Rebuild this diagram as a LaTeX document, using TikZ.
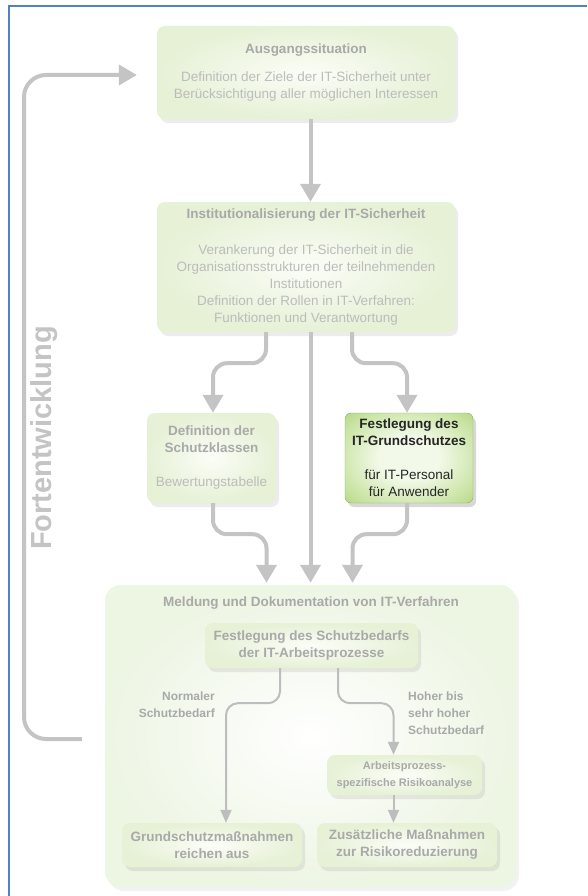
\documentclass[tikz,border=0pt]{standalone}
\usepackage{fontspec}
\setmainfont{Liberation Sans}
\usetikzlibrary{arrows.meta,shadows}
\definecolor{frameblue}{HTML}{4F81C6}
\definecolor{arrgray}{HTML}{C4C4C4}
\definecolor{arrgraysm}{HTML}{BDBDBD}
\definecolor{titlegray}{HTML}{A9A9A9}
\definecolor{bodygray}{HTML}{BCBCBC}
\definecolor{boxout}{HTML}{E6F1D6}
\definecolor{boxin}{HTML}{FBFDF7}
\definecolor{hiout}{HTML}{98C566}
\definecolor{himid}{HTML}{C6E29E}
\definecolor{hiin}{HTML}{F2F9E8}
\definecolor{bigout}{HTML}{EDF5E3}
\pgfdeclareradialshading{hishade}{\pgfpoint{0bp}{0bp}}{color(0bp)=(hiin); color(12bp)=(hiin); color(30bp)=(himid); color(45bp)=(hiout); color(50bp)=(hiout)}
\tikzset{
  fadebox/.style={rounded corners=8pt, shade, inner color=boxin, outer color=boxout,
    drop shadow={opacity=0.15, shadow xshift=3pt, shadow yshift=-4pt},
    align=center, inner sep=0pt, text=bodygray, font=\fontsize{13.5}{17}\selectfont},
  hibox/.style={rounded corners=6pt, shading=hishade,
    draw=hiout!90!black, line width=0.4pt,
    drop shadow={opacity=0.3, shadow xshift=3pt, shadow yshift=-4pt},
    align=center, inner sep=0pt, text=black!85, font=\fontsize{13.5}{17}\selectfont},
  bigbox/.style={rounded corners=16pt, shade, inner color=white, outer color=bigout,
    drop shadow={opacity=0.1, shadow xshift=3pt, shadow yshift=-4pt}, inner sep=0pt},
  bigarr/.style={draw=arrgray, line width=4pt, -{Triangle[width=20pt,length=18pt]}, rounded corners=14pt},
  smallarr/.style={draw=arrgraysm, line width=2pt, -{Triangle[width=11pt,length=13pt]}, rounded corners=12pt},
  ttl/.style={font=\fontsize{13.5}{17}\selectfont\bfseries, text=titlegray},
  lbl/.style={font=\fontsize{12}{17}\selectfont\bfseries, text=titlegray, inner sep=0pt}
}
\newcommand{\tl}[1]{{\color{titlegray}\bfseries #1}}
\begin{document}
\begin{tikzpicture}[x=1pt,y=-1pt]
\useasboundingbox (0,0) rectangle (587,896);
\fill[white] (0,0) rectangle (587,896);
% frame
\draw[frameblue, line width=2.2pt] (9,896) -- (9,6) -- (587,6);

% boxes
\node[fadebox, minimum width=298pt, minimum height=93pt] (box1) at (306,72.5)
  {\tl{Ausgangssituation}\\[11pt]Definition der Ziele der IT-Sicherheit unter\\Berücksichtigung aller möglichen Interessen};
\node[fadebox, minimum width=298pt, minimum height=130pt] (box2) at (306,267)
  {\tl{Institutionalisierung der IT-Sicherheit}\\[19pt]Verankerung der IT-Sicherheit in die\\Organisationsstrukturen der teilnehmenden\\Institutionen\\Definition der Rollen in IT-Verfahren:\\Funktionen und Verantwortung};
\node[fadebox, minimum width=129pt, minimum height=90pt] (box3) at (211.5,458)
  {\tl{Definition der}\\\tl{Schutzklassen}\\[17pt]Bewertungstabelle};
\node[hibox, minimum width=128pt, minimum height=90pt] (box4) at (409,458)
  {\textbf{Festlegung des}\\\textbf{IT-Grundschutzes}\\[17pt]für IT-Personal\\für Anwender};

\node[bigbox, minimum width=411pt, minimum height=302pt] (big) at (310.5,736) {};
\node[ttl] (bigtitle) at (311,603) {Meldung und Dokumentation von IT-Verfahren};
\node[fadebox, minimum width=213pt, minimum height=45pt, font=\fontsize{13.5}{17}\selectfont\bfseries, text=titlegray] (inner) at (311.5,645.5)
  {Festlegung des Schutzbedarfs\\der IT-Arbeitsprozesse};
\node[fadebox, minimum width=155pt, minimum height=40pt, font=\fontsize{11}{17}\selectfont\bfseries, text=titlegray] (risk) at (404.5,775)
  {Arbeitsprozess-\\spezifische Risikoanalyse};
\node[fadebox, minimum width=180pt, minimum height=44pt, font=\fontsize{13.5}{17}\selectfont\bfseries, text=titlegray] (grund) at (212,845)
  {Grundschutzmaßnahmen\\reichen aus};
\node[fadebox, minimum width=180pt, minimum height=44pt, font=\fontsize{13.5}{17}\selectfont\bfseries, text=titlegray] (zus) at (407,845)
  {Zusätzliche Maßnahmen\\zur Risikoreduzierung};

\node[lbl, align=right, anchor=east] (lnorm) at (215,704.5) {Normaler\\Schutzbedarf};
\node[lbl, align=left, anchor=west] (lhoch) at (408,713) {Hoher bis\\sehr hoher\\Schutzbedarf};

\node[rotate=90, font=\fontsize{29}{32}\selectfont\bfseries, text=arrgray] (fort) at (44.5,438) {Fortentwicklung};

% connectors
\draw[bigarr] (box1.south -| big.north) -- (box2.north -| big.north);
\draw[bigarr] ([xshift=-40pt]box2.south) -- ++(0,31) -| ([xshift=1.5pt]box3.north);
\draw[bigarr] ([xshift=46pt]box2.south) -- ++(0,31) -| ([xshift=-2pt]box4.north);
\draw[bigarr] (box2.south -| big.north) -- ([yshift=2pt]big.north);
\draw[bigarr] ([xshift=1.5pt]box3.south) -- ++(0,31) -| ([xshift=-44pt,yshift=2pt]big.north);
\draw[bigarr] ([xshift=-2pt]box4.south) -- ++(0,31) -| ([xshift=42pt,yshift=2pt]big.north);

\coordinate (fbstart) at ([xshift=-23pt,yshift=-3pt]big.west);
\coordinate (fbend) at ([xshift=-20pt,yshift=-2.5pt]box1.west);
\draw[bigarr, rounded corners=22pt] (fbstart) -| (24,75) -- (fbend);

\draw[smallarr] ([xshift=-31.5pt]inner.south) -- ++(0,35) -| ([xshift=14pt]grund.north);
\draw[smallarr] ([xshift=26.5pt]inner.south) -- ++(0,35) -| ([xshift=-11pt]risk.north);
\draw[smallarr] ([xshift=-11pt]risk.south) -- ([xshift=-11pt]risk.south |- zus.north);
\end{tikzpicture}
\end{document}
